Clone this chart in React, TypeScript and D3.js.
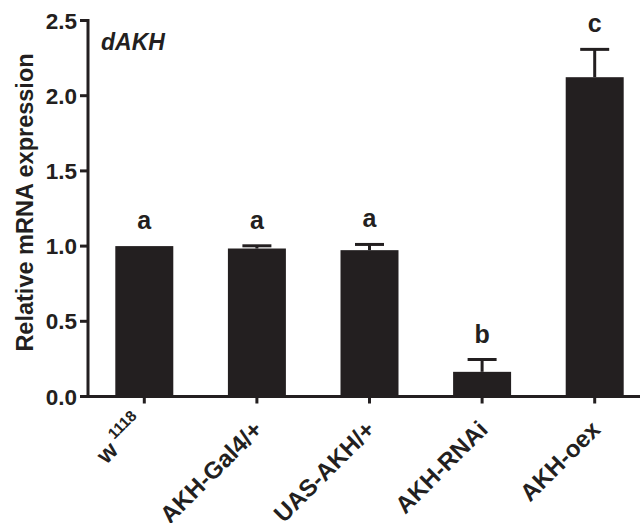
import React from "react";
import * as d3 from "d3";

const categories = ["w1118", "AKH-Gal4/+", "UAS-AKH/+", "AKH-RNAi", "AKH-oex"];
const means = [1.0, 0.984, 0.973, 0.164, 2.123];
const errors = [0.0, 0.018, 0.038, 0.082, 0.185];
const letters = ["a", "a", "a", "b", "c"];
const yTicks = [0, 0.5, 1.0, 1.5, 2.0, 2.5];

const W = 640;
const H = 523;
const FONT = "'Liberation Sans', Arial, Helvetica, sans-serif";
const INK = "#231f20";

export default function App() {
  const x = d3
    .scaleBand<string>()
    .domain(categories)
    .range([88, 651])
    .paddingInner(0.485)
    .paddingOuter(0.2425);
  const y = d3.scaleLinear().domain([0, 2.5]).range([396.5, 20.5]);
  const bw = x.bandwidth();
  const capHalf = bw / 4;

  return (
    <svg
      width={W}
      height={H}
      style={{ position: "absolute", left: 0, top: 0, background: "#fff" }}
      fontFamily={FONT}
    >
      {categories.map((c, i) => (
        <rect
          key={"bar" + c}
          x={x(c)!}
          y={y(means[i])}
          width={bw}
          height={y(0) - y(means[i])}
          fill={INK}
        />
      ))}
      {categories.map((c, i) => {
        const cx = x(c)! + bw / 2;
        const top = y(means[i] + errors[i]);
        if (errors[i] <= 0) return null;
        return (
          <g key={"err" + c} stroke={INK} strokeWidth={3}>
            <line x1={cx} x2={cx} y1={y(means[i])} y2={top} />
            <line x1={cx - capHalf} x2={cx + capHalf} y1={top} y2={top} />
          </g>
        );
      })}
      {categories.map((c, i) => (
        <text
          key={"let" + c}
          x={x(c)! + bw / 2}
          y={y(means[i] + errors[i]) - 17}
          textAnchor="middle"
          fontSize={25}
          fontWeight="bold"
          fill={INK}
        >
          {letters[i]}
        </text>
      ))}
      <line x1={88} x2={88} y1={y(2.5) - 1.5} y2={y(0) + 1.5} stroke={INK} strokeWidth={3} />
      {yTicks.map((t) => (
        <g key={"yt" + t}>
          <line x1={80} x2={88} y1={y(t)} y2={y(t)} stroke={INK} strokeWidth={3} />
          <text
            x={77}
            y={y(t)}
            dy="0.36em"
            textAnchor="end"
            fontSize={22.5}
            fontWeight="bold"
            fill={INK}
          >
            {t.toFixed(1)}
          </text>
        </g>
      ))}
      <line x1={86.5} x2={W} y1={y(0)} y2={y(0)} stroke={INK} strokeWidth={3} />
      {categories.map((c) => {
        const cx = x(c)! + bw / 2;
        const isW = c === "w1118";
        return (
          <g key={"xt" + c}>
            <line x1={cx} x2={cx} y1={y(0)} y2={y(0) + 7} stroke={INK} strokeWidth={3} />
            {isW ? (
              <g fontWeight="bold" fill={INK}>
                <text transform={`translate(${cx - 38},465) rotate(-45)`} fontSize={24}>
                  w
                </text>
                <text transform={`translate(${cx - 30},440) rotate(-45)`} fontSize={15.5}>
                  1118
                </text>
              </g>
            ) : (
              <text
                transform={`translate(${cx + 7},431) rotate(-45)`}
                textAnchor="end"
                fontSize={24}
                fontWeight="bold"
                fill={INK}
              >
                {c}
              </text>
            )}
          </g>
        );
      })}
      <text
        transform={`translate(33,202.5) rotate(-90)`}
        textAnchor="middle"
        fontSize={23.5}
        fontWeight="bold"
        fill={INK}
      >
        Relative mRNA expression
      </text>
      <text x={101} y={50} fontSize={23} fontWeight="bold" fontStyle="italic" fill={INK}>
        dAKH
      </text>
    </svg>
  );
}
